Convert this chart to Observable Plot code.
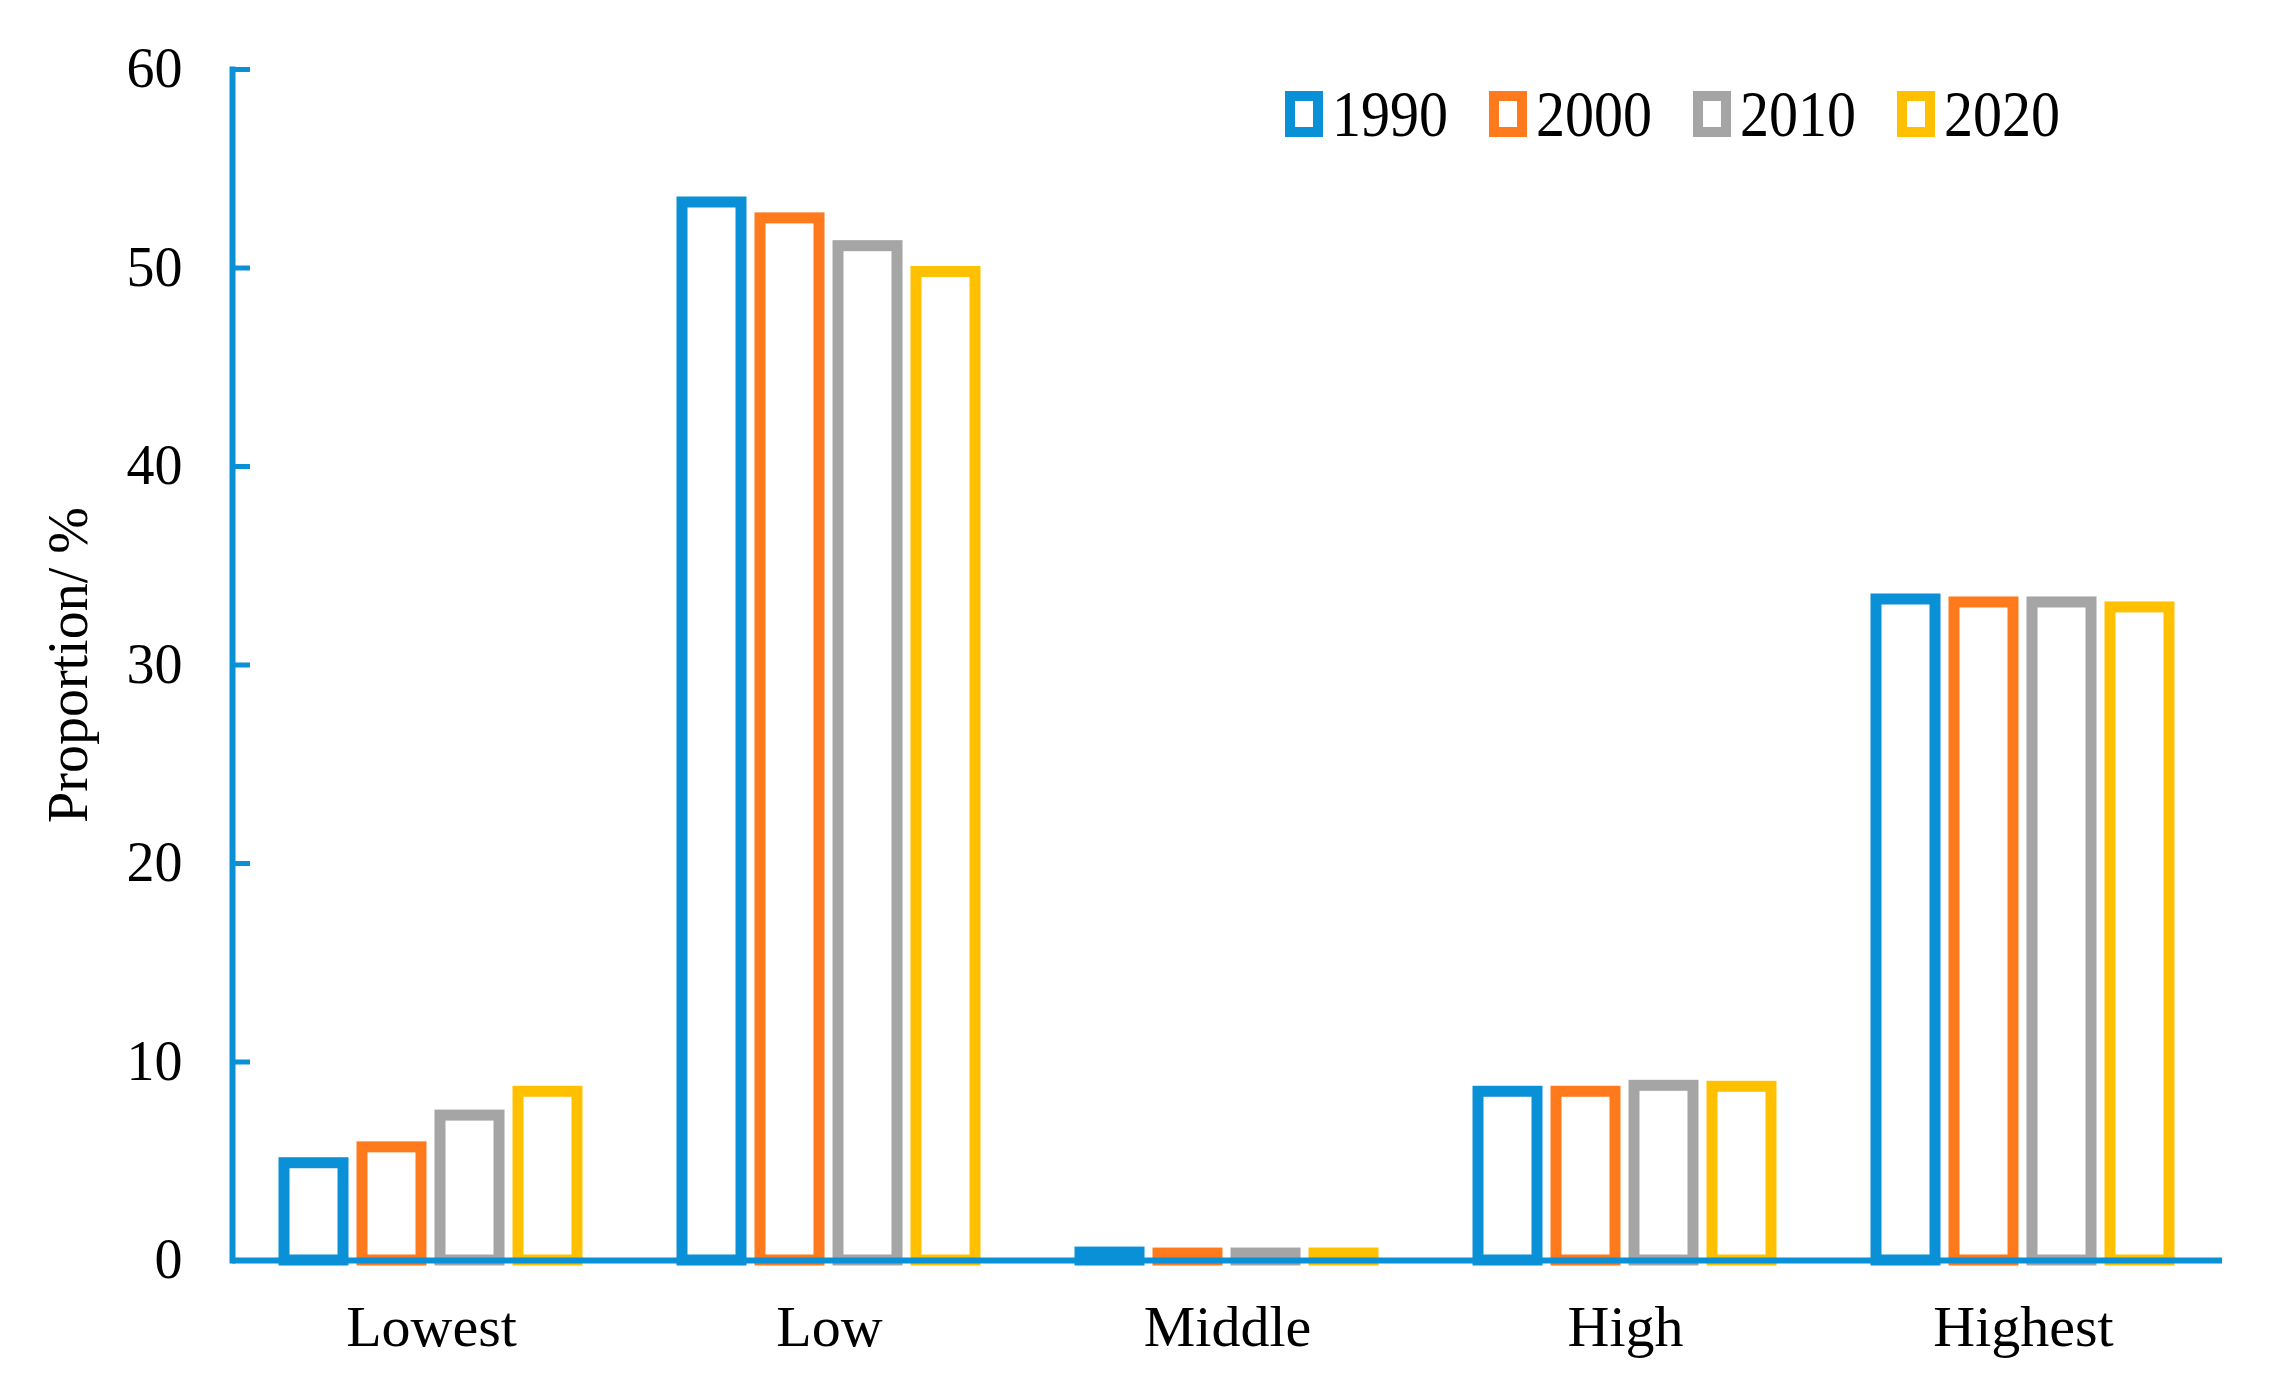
<!DOCTYPE html>
<html><head><meta charset="utf-8">
<script src="https://cdn.jsdelivr.net/npm/d3@7"></script>
<script src="https://cdn.jsdelivr.net/npm/@observablehq/plot@0.6"></script>
<style>
html,body{margin:0;padding:0;background:#fff;}
#wrap{position:relative;width:2274px;height:1392px;}
#legend{position:absolute;left:1285px;top:85px;display:flex;gap:41px;font-family:"Liberation Serif","Times New Roman",serif;font-size:58px;line-height:1;color:#000;}
.item{display:flex;align-items:center;gap:9px;}
.item span{display:inline-block;transform:scaleY(1.14);}
.sw{width:18px;height:26px;border:10px solid;box-sizing:content-box;background:#fff;}
</style></head><body>
<div id="wrap"><div id="legend"></div></div>
<script>
const categories = ["Lowest", "Low", "Middle", "High", "Highest"];
const years = ["1990", "2000", "2010", "2020"];
const colors = ["#0A90D6", "#FF7A1C", "#A5A5A5", "#FFC000"];
const v1990 = [4.9, 53.3, 0.4, 8.5, 33.3];
const v2000 = [5.7, 52.5, 0.35, 8.5, 33.15];
const v2010 = [7.3, 51.1, 0.35, 8.8, 33.15];
const v2020 = [8.5, 49.8, 0.35, 8.75, 32.9];
const yTicks = [0, 10, 20, 30, 40, 50, 60];
const yLabel = "Proportion/ %";

const series = [v1990, v2000, v2010, v2020];
const data = categories.flatMap((c, i) => years.map((y, j) => ({category: c, year: y, value: series[j][i]})));
const blue = colors[0];
const font = "'Liberation Serif', 'Times New Roman', serif";

const chart = Plot.plot({
  width: 2274, height: 1392,
  marginLeft: 232, marginRight: 52, marginTop: 69, marginBottom: 132,
  style: {fontFamily: font, fontSize: "56px", color: "#000", background: "#fff"},
  fx: {domain: categories, padding: 0, label: null},
  x: {domain: years, paddingInner: 0.24, paddingOuter: 0.64, axis: null},
  y: {domain: [0, 60]},
  color: {domain: years, range: colors},
  marks: [
    Plot.barY(data, {fx: "category", x: "year", y: "value", stroke: "year", fill: "white", strokeWidth: 11}),
    Plot.ruleY([0], {stroke: blue, strokeWidth: 6}),
    Plot.frame({anchor: "left", facetAnchor: "left", stroke: blue, strokeWidth: 6, strokeLinecap: "square"}),
    Plot.axisY(yTicks, {tickSize: -18, tickFormat: () => "", stroke: blue, strokeWidth: 5, label: null}),
    Plot.axisY(yTicks, {tickSize: 0, tickPadding: 50, fontSize: 56, label: yLabel, labelAnchor: "center", labelOffset: 185, labelArrow: "none"}),
    Plot.axisFx({anchor: "bottom", tickSize: 0, tickPadding: 44, fontSize: 58, label: null})
  ]
});
document.getElementById("wrap").prepend(chart);

const legend = document.getElementById("legend");
years.forEach((y, i) => {
  const item = document.createElement("div");
  item.className = "item";
  const sw = document.createElement("div");
  sw.className = "sw";
  sw.style.borderColor = colors[i];
  const t = document.createElement("span");
  t.textContent = y;
  item.append(sw, t);
  legend.append(item);
});
</script>
</body></html>
